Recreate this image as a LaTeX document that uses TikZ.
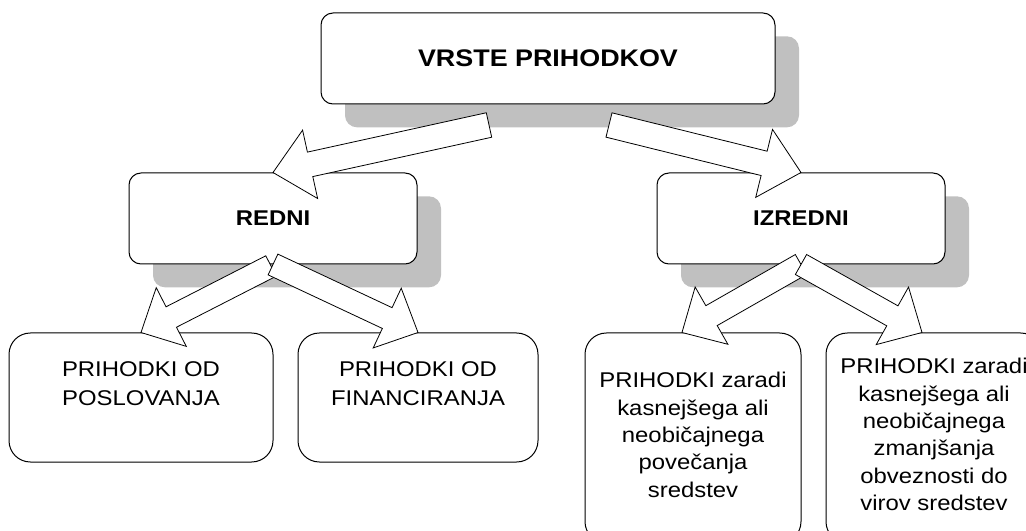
\documentclass[tikz,border=0pt]{standalone}
\usepackage{fontspec}
\setmainfont{Liberation Sans}[FakeStretch=1.12]
\usepackage{tikz}
\usetikzlibrary{positioning,calc,shadows}
\definecolor{shadowgray}{RGB}{192,192,192}

% #1 tail, #2 tip, #3 half shaft, #4 half head, #5 head length
\newcommand{\blockarrow}[5]{%
  \path (#1) coordinate (ba-t) (#2) coordinate (ba-h);
  \path ($(ba-h)!#5!(ba-t)$) coordinate (ba-b);
  \draw[blockarr] ($(ba-t)!#3!90:(ba-h)$) -- ($(ba-b)!#3!90:(ba-h)$)
    -- ($(ba-b)!#4!90:(ba-h)$) -- (ba-h) -- ($(ba-b)!#4!-90:(ba-h)$)
    -- ($(ba-b)!#3!-90:(ba-h)$) -- ($(ba-t)!#3!-90:(ba-h)$) -- cycle;
}

\begin{document}
\begin{tikzpicture}[x=0.75pt,y=-0.75pt]
\tikzstyle{head}=[draw,line width=0.75pt,rounded corners=9pt,fill=white,inner sep=0pt,
  drop shadow={shadow xshift=18pt,shadow yshift=-17.5pt,fill=shadowgray,opacity=1}]
\tikzstyle{kind}=[head,minimum width=216pt,minimum height=68.25pt,
  font=\bfseries\fontsize{16}{20}\selectfont]
\tikzstyle{leaf}=[draw,line width=0.75pt,rounded corners=16pt,fill=white,inner sep=0pt,
  minimum height=96.75pt]
\tikzstyle{leaftext}=[align=center,inner sep=0pt,font=\fontsize{16}{21.75}\selectfont]
\tikzstyle{blockarr}=[draw,fill=white,line width=0.6pt,line join=miter]

\useasboundingbox (0,0) rectangle (1026,531);

\node[head,minimum width=340.5pt,minimum height=68.25pt,
  font=\bfseries\fontsize{18}{22}\selectfont] (top) at (548,58.5) {VRSTE PRIHODKOV};
\node[kind] (redni) at (273,218.5) {REDNI};
\node[kind] (izredni) at (801,218.5) {IZREDNI};

\node[leaf,minimum width=198pt] (posl) at (141,397.5) {};
\node[leaf,minimum width=180pt,right=18pt of posl] (fin) {};
\node[leaf,minimum width=162pt,minimum height=157.5pt] (pov) at (693,438) {};
\node[leaf,minimum width=162pt,minimum height=157.5pt,right=18pt of pov] (zma) {};

\node[leaftext,below=22pt of posl.north] (posltxt) {PRIHODKI OD\\POSLOVANJA};
\node[leaftext,below=22pt of fin.north] (fintxt) {PRIHODKI OD\\FINANCIRANJA};
\node[leaftext,font=\fontsize{16}{20.6}\selectfont,below=29.5pt of pov.north] (povtxt)
  {PRIHODKI zaradi\\kasnejšega ali\\neobičajnega\\povečanja\\sredstev};
\node[leaftext,font=\fontsize{16}{20.6}\selectfont,below=19pt of zma.north] (zmatxt)
  {PRIHODKI zaradi\\kasnejšega ali\\neobičajnega\\zmanjšanja\\obveznosti do\\virov sredstev};

% block arrows
\blockarrow{$(top.south)+(-59,20.5)$}{redni.north}{9.4pt}{26.25pt}{28.5pt}
\blockarrow{$(top.south)+(61,20.5)$}{izredni.north}{9.4pt}{26.25pt}{28.5pt}
\blockarrow{$(redni.south)+(-2,1.5)$}{posl.north}{8.6pt}{24.75pt}{25.5pt}
\blockarrow{redni.south}{fin.north}{8.6pt}{24.75pt}{25.5pt}
\blockarrow{izredni.south}{$(pov.north)+(-11,0)$}{8.6pt}{24.75pt}{25.5pt}
\blockarrow{izredni.south}{$(zma.north)+(-12,0)$}{8.6pt}{24.75pt}{25.5pt}
\end{tikzpicture}
\end{document}
